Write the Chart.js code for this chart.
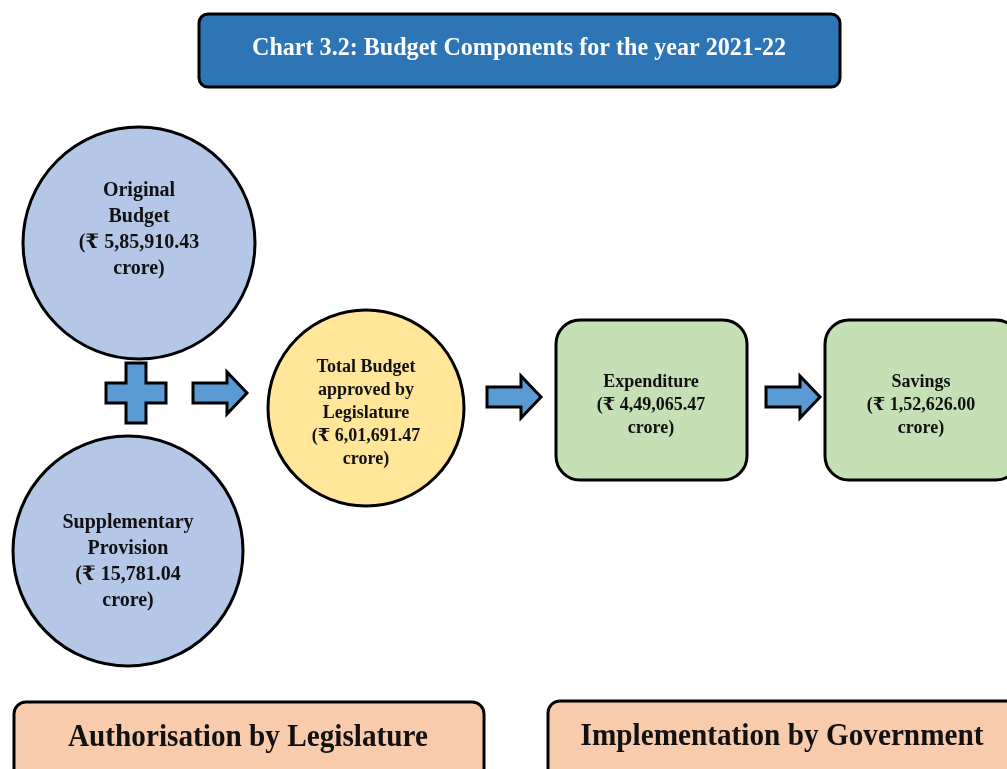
<!DOCTYPE html>
<html>
<head>
<meta charset="utf-8">
<script src="https://cdn.jsdelivr.net/npm/chart.js@4"></script>
<style>
  html, body { margin: 0; padding: 0; background: #fff; }
  #wrap { width: 1007px; height: 769px; position: relative; }
</style>
</head>
<body>
<div id="wrap"><canvas id="flowChart"></canvas></div>
<script>
// diagram content
const chartTitle = "Chart 3.2: Budget Components for the year 2021-22";
const nodeNames = [
    ["Original", "Budget"],
    ["Supplementary", "Provision"],
    ["Total Budget", "approved by", "Legislature"],
    ["Expenditure"],
    ["Savings"]
];
const nodeAmounts = ["5,85,910.43", "15,781.04", "6,01,691.47", "4,49,065.47", "1,52,626.00"];
const stageLabels = ["Authorisation by Legislature", "Implementation by Government"];

// layout (in chart units, 1 unit = 1 px of the 1007x769 page)
const nodeShape = ["circle", "circle", "circle", "box", "box"];
const nodeX = [139, 128, 366, 651, 921];
const nodeY = [243, 551, 408, 400, 400];
const nodeTextY = [230, 562, 413, 405, 405];
const nodeR = [116, 115, 98, 0, 0];
const nodeFill = ["#B4C7E7", "#B4C7E7", "#FFE699", "#C5E0B4", "#C5E0B4"];
const nodeFont = [20, 20, 18, 18, 18];
const nodeLine = [26, 26, 23, 23, 23];
const arrowX = [193, 487, 766];
const arrowY = [393, 397, 397];

const serif = "'Liberation Serif', 'Times New Roman', 'DejaVu Serif', serif";

function roundBox(ctx, x0, y0, x1, y1, r, fill, lw) {
    ctx.beginPath();
    ctx.roundRect(x0, y0, x1 - x0, y1 - y0, r);
    ctx.fillStyle = fill;
    ctx.fill();
    ctx.lineWidth = lw;
    ctx.strokeStyle = "#000";
    ctx.stroke();
}

function textLines(ctx, lines, cx, cy, size, step, color, maxW) {
    ctx.font = "bold " + size + "px " + serif;
    ctx.fillStyle = color;
    ctx.textAlign = "center";
    ctx.textBaseline = "middle";
    const top = cy - (lines.length - 1) * step / 2;
    lines.forEach((t, i) => {
        if (maxW) ctx.fillText(t, cx, top + i * step, maxW);
        else ctx.fillText(t, cx, top + i * step);
    });
}

const diagramPlugin = {
    id: "diagram",
    afterDatasetsDraw(chart) {
        const ctx = chart.ctx;
        const sx = v => chart.scales.x.getPixelForValue(v);
        const sy = v => chart.scales.y.getPixelForValue(v);
        ctx.save();

        // title
        roundBox(ctx, sx(199), sy(14), sx(840), sy(87), 9, "#2E75B6", 3);
        textLines(ctx, [chartTitle], sx(519), sy(49), 25, 0, "#fff", 534);

        // nodes
        nodeNames.forEach((name, i) => {
            const cx = sx(nodeX[i]), cy = sy(nodeY[i]);
            if (nodeShape[i] === "circle") {
                ctx.beginPath();
                ctx.arc(cx, cy, nodeR[i], 0, Math.PI * 2);
                ctx.fillStyle = nodeFill[i];
                ctx.fill();
                ctx.lineWidth = 3;
                ctx.strokeStyle = "#000";
                ctx.stroke();
            } else {
                const left = i === 3 ? sx(556) : sx(825);
                const right = i === 3 ? sx(747) : sx(1020);
                roundBox(ctx, left, sy(320), right, sy(480), 24, nodeFill[i], 3);
            }
            const lines = [...name, "(\u20B9 " + nodeAmounts[i], "crore)"];
            textLines(ctx, lines, cx, sy(nodeTextY[i]), nodeFont[i], nodeLine[i], "#111");
        });

        // plus sign
        const px = sx(136), py = sy(393);
        ctx.beginPath();
        ctx.moveTo(px - 10, py - 30); ctx.lineTo(px + 10, py - 30);
        ctx.lineTo(px + 10, py - 10); ctx.lineTo(px + 30, py - 10);
        ctx.lineTo(px + 30, py + 10); ctx.lineTo(px + 10, py + 10);
        ctx.lineTo(px + 10, py + 30); ctx.lineTo(px - 10, py + 30);
        ctx.lineTo(px - 10, py + 10); ctx.lineTo(px - 30, py + 10);
        ctx.lineTo(px - 30, py - 10); ctx.lineTo(px - 10, py - 10);
        ctx.closePath();
        ctx.fillStyle = "#5B9BD5";
        ctx.fill();
        ctx.lineWidth = 3;
        ctx.strokeStyle = "#000";
        ctx.lineJoin = "miter";
        ctx.stroke();

        // arrows
        arrowX.forEach((ax, i) => {
            const x0 = sx(ax), y = sy(arrowY[i]);
            ctx.beginPath();
            ctx.moveTo(x0, y - 10); ctx.lineTo(x0 + 34, y - 10);
            ctx.lineTo(x0 + 34, y - 21); ctx.lineTo(x0 + 54, y);
            ctx.lineTo(x0 + 34, y + 21); ctx.lineTo(x0 + 34, y + 10);
            ctx.lineTo(x0, y + 10);
            ctx.closePath();
            ctx.fillStyle = "#5B9BD5";
            ctx.fill();
            ctx.lineWidth = 3;
            ctx.stroke();
        });

        // stage labels
        roundBox(ctx, sx(14), sy(702), sx(484), sy(790), 12, "#F8CBAD", 3);
        roundBox(ctx, sx(548), sy(701), sx(1020), sy(790), 12, "#F8CBAD", 3);
        textLines(ctx, [stageLabels[0]], sx(248), sy(738), 31, 0, "#111", 360);
        textLines(ctx, [stageLabels[1]], sx(782), sy(737), 31, 0, "#111", 403);

        ctx.restore();
    }
};

document.addEventListener("DOMContentLoaded", () => {
    const ctx = document.getElementById("flowChart").getContext("2d");
    new Chart(ctx, {
        type: "scatter",
        data: {
            datasets: [{
                data: nodeX.map((x, i) => ({ x, y: nodeY[i] })),
                pointRadius: 0,
                pointHoverRadius: 0
            }]
        },
        options: {
            responsive: true,
            maintainAspectRatio: false,
            animation: false,
            layout: { padding: 0 },
            plugins: { legend: { display: false }, tooltip: { enabled: false } },
            scales: {
                x: { type: "linear", min: 0, max: 1007, display: false },
                y: { type: "linear", min: 0, max: 769, reverse: true, display: false }
            }
        },
        plugins: [diagramPlugin]
    });
});
</script>
</body>
</html>
